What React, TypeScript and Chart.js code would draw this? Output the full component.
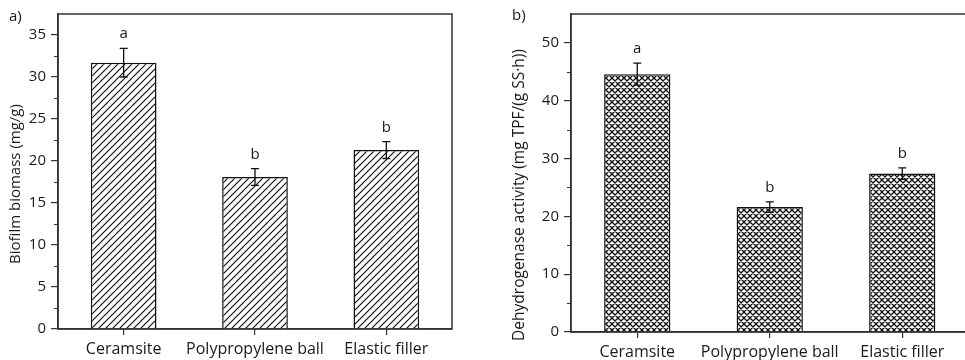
import React, { useEffect, useRef } from "react";
import { Chart, registerables } from "chart.js";

Chart.register(...registerables);

// ---- data ----
const categories = ["Ceramsite", "Polypropylene ball", "Elastic filler"];

const biomassValues = [31.7, 18.1, 21.3];
const biomassErrors = [1.7, 1.0, 1.0];
const biomassLetters = ["a", "b", "b"];
const biomassMax = 37.5;
const biomassStep = 5;
const biomassTitle = "Biofilm biomass (mg/g)";

const dhaValues = [44.6, 21.6, 27.4];
const dhaErrors = [1.9, 0.9, 1.0];
const dhaLetters = ["a", "b", "b"];
const dhaMax = 55;
const dhaStep = 10;
const dhaTitle = "Dehydrogenase activity (mg TPF/(g SS\u00b7h))";

const FONT = "'Open Sans', 'Noto Sans', sans-serif";
const INK = "#1a1a1a";
const AXIS = "#333";

function makeHatch(kind: "diag" | "cross"): CanvasPattern | string {
  const s = kind === "diag" ? 7 : 6;
  const c = document.createElement("canvas");
  c.width = s;
  c.height = s;
  const g = c.getContext("2d");
  if (!g) return "#fff";
  g.fillStyle = "#fff";
  g.fillRect(0, 0, s, s);
  g.strokeStyle = "#111";
  g.lineWidth = kind === "diag" ? 1.2 : 1.35;
  g.beginPath();
  g.moveTo(-1, s + 1);
  g.lineTo(s + 1, -1);
  g.moveTo(-1, 1);
  g.lineTo(1, -1);
  g.moveTo(s - 1, s + 1);
  g.lineTo(s + 1, s - 1);
  if (kind === "cross") {
    g.moveTo(-1, -1);
    g.lineTo(s + 1, s + 1);
    g.moveTo(s - 1, -1);
    g.lineTo(s + 1, 1);
    g.moveTo(-1, s - 1);
    g.lineTo(1, s + 1);
  }
  g.stroke();
  const p = g.createPattern(c, "repeat");
  return p || "#fff";
}

type PanelCfg = {
  canvasLeft: number;
  width: number;
  values: number[];
  errors: number[];
  letters: string[];
  max: number;
  step: number;
  title: string;
  titleFont: number;
  titleX: number;
  titleY: number;
  panelLabel: string;
  labelX: number;
  labelY: number;
  area: { left: number; top: number; right: number; bottom: number };
  hatch: "diag" | "cross";
};

function decoPlugin(cfg: PanelCfg) {
  return {
    id: "panelDeco",
    afterDatasetsDraw(chart: any) {
      const ctx = chart.ctx;
      const y = chart.scales.y;
      const meta = chart.getDatasetMeta(0);
      ctx.save();
      ctx.strokeStyle = "#111";
      ctx.lineWidth = 1.3;
      ctx.fillStyle = INK;
      ctx.font = `15px ${FONT}`;
      ctx.textAlign = "center";
      ctx.textBaseline = "alphabetic";
      cfg.values.forEach((v, i) => {
        const x = meta.data[i].x;
        const yt = y.getPixelForValue(v + cfg.errors[i]);
        const yb = y.getPixelForValue(v - cfg.errors[i]);
        ctx.beginPath();
        ctx.moveTo(x, yt);
        ctx.lineTo(x, yb);
        ctx.moveTo(x - 4, yt);
        ctx.lineTo(x + 4, yt);
        ctx.moveTo(x - 4, yb);
        ctx.lineTo(x + 4, yb);
        ctx.stroke();
        ctx.fillText(cfg.letters[i], x, yt - 10);
      });
      ctx.restore();
    },
    afterDraw(chart: any) {
      const ctx = chart.ctx;
      const a = chart.chartArea;
      const y = chart.scales.y;
      ctx.save();
      ctx.strokeStyle = AXIS;
      ctx.lineWidth = 1.5;
      ctx.strokeRect(a.left, a.top, a.right - a.left, a.bottom - a.top);
      ctx.lineWidth = 1.2;
      ctx.beginPath();
      for (let v = cfg.step / 2; v < cfg.max; v += cfg.step) {
        const py = Math.round(y.getPixelForValue(v)) + 0.5;
        ctx.moveTo(a.left - 4, py);
        ctx.lineTo(a.left, py);
      }
      ctx.stroke();
      ctx.fillStyle = INK;
      ctx.font = `${cfg.titleFont}px ${FONT}`;
      ctx.textAlign = "center";
      ctx.textBaseline = "middle";
      ctx.translate(cfg.titleX - cfg.canvasLeft, cfg.titleY);
      ctx.rotate(-Math.PI / 2);
      ctx.fillText(cfg.title, 0, 0);
      ctx.restore();
      ctx.save();
      ctx.fillStyle = INK;
      ctx.font = `15px ${FONT}`;
      ctx.textAlign = "left";
      ctx.textBaseline = "alphabetic";
      ctx.fillText(cfg.panelLabel, cfg.labelX - cfg.canvasLeft, cfg.labelY);
      ctx.restore();
    },
  };
}

function Panel({ cfg }: { cfg: PanelCfg }) {
  const ref = useRef<HTMLCanvasElement | null>(null);
  useEffect(() => {
    const el = ref.current;
    if (!el) return;
    const H = 360;
    const leftW = cfg.area.left - cfg.canvasLeft;
    const bottomH = H - cfg.area.bottom;
    const chart = new Chart(el, {
      type: "bar",
      data: {
        labels: categories,
        datasets: [
          {
            data: cfg.values,
            backgroundColor: makeHatch(cfg.hatch) as any,
            borderColor: "#111",
            borderWidth: 1.5,
            borderSkipped: "bottom",
            barPercentage: 0.5,
            categoryPercentage: 1,
          },
        ],
      },
      options: {
        animation: false,
        responsive: false,
        maintainAspectRatio: false,
        layout: {
          padding: {
            left: 0,
            top: cfg.area.top,
            right: cfg.canvasLeft + cfg.width - cfg.area.right,
            bottom: 0,
          },
        },
        plugins: {
          legend: { display: false },
          tooltip: { enabled: false },
        },
        scales: {
          x: {
            type: "category",
            offset: true,
            grid: {
              display: true,
              drawOnChartArea: false,
              drawTicks: true,
              tickLength: 6,
              offset: false,
              color: AXIS,
              lineWidth: 1.2,
            },
            border: { display: true, color: AXIS, width: 1.5 },
            ticks: {
              color: INK,
              font: { family: FONT, size: 16 },
              padding: 5,
              maxRotation: 0,
              autoSkip: false,
            },
            afterFit: (s: any) => {
              s.height = bottomH;
            },
          },
          y: {
            min: 0,
            max: cfg.max,
            grid: {
              display: true,
              drawOnChartArea: false,
              drawTicks: true,
              tickLength: 7,
              color: AXIS,
              lineWidth: 1.2,
            },
            border: { display: true, color: AXIS, width: 1.5 },
            ticks: {
              stepSize: cfg.step,
              includeBounds: false,
              color: INK,
              font: { family: FONT, size: 15 },
              padding: 5,
            },
            title: { display: false },
            afterFit: (s: any) => {
              s.width = leftW;
            },
          },
        },
      },
      plugins: [decoPlugin(cfg) as any],
    });
    return () => chart.destroy();
  }, [cfg]);
  return (
    <canvas
      ref={ref}
      width={cfg.width}
      height={360}
      style={{
        position: "absolute",
        left: cfg.canvasLeft,
        top: 0,
        width: cfg.width,
        height: 360,
      }}
    />
  );
}

const panelA: PanelCfg = {
  canvasLeft: 0,
  width: 470,
  values: biomassValues,
  errors: biomassErrors,
  letters: biomassLetters,
  max: biomassMax,
  step: biomassStep,
  title: biomassTitle,
  titleFont: 15,
  titleX: 16,
  titleY: 184,
  panelLabel: "a)",
  labelX: 9,
  labelY: 21,
  area: { left: 58, top: 13, right: 452, bottom: 329 },
  hatch: "diag",
};

const panelB: PanelCfg = {
  canvasLeft: 480,
  width: 500,
  values: dhaValues,
  errors: dhaErrors,
  letters: dhaLetters,
  max: dhaMax,
  step: dhaStep,
  title: dhaTitle,
  titleFont: 15.5,
  titleX: 520,
  titleY: 195,
  panelLabel: "b)",
  labelX: 512,
  labelY: 20,
  area: { left: 571, top: 14, right: 968.5, bottom: 332 },
  hatch: "cross",
};

export default function App() {
  return (
    <div
      style={{
        position: "fixed",
        left: 0,
        top: 0,
        width: 965,
        height: 360,
        overflow: "hidden",
        background: "#fff",
      }}
    >
      <Panel cfg={panelA} />
      <Panel cfg={panelB} />
    </div>
  );
}
